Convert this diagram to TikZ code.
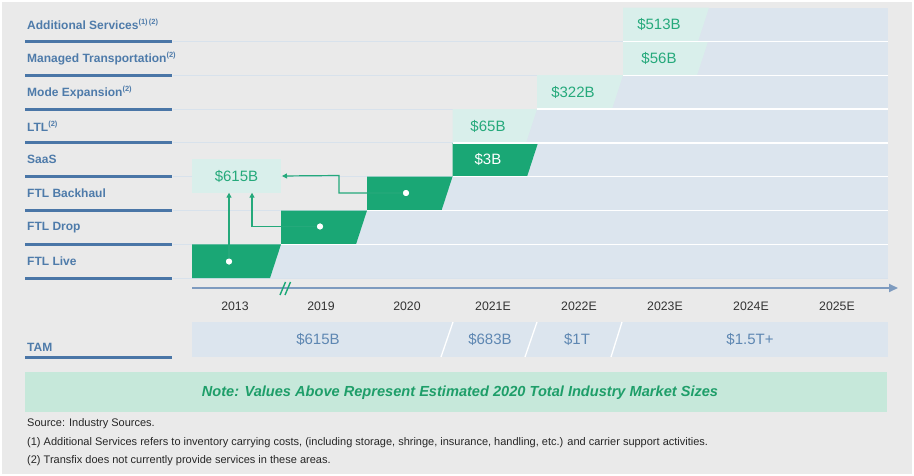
\documentclass[tikz,border=0pt]{standalone}
\usepackage{fontspec}
\setmainfont{Liberation Sans}
\usetikzlibrary{arrows.meta}
\definecolor{bg}{HTML}{EAEAEA}
\definecolor{dkgreen}{HTML}{1AA775}
\definecolor{mint}{HTML}{D9EFEB}
\definecolor{bandblue}{HTML}{DCE5EE}
\definecolor{lblblue}{HTML}{4E7BAA}
\definecolor{lineblue}{HTML}{4A76A7}
\definecolor{faint}{HTML}{D8E2EC}
\definecolor{axisblue}{HTML}{7E9BBF}
\definecolor{valgreen}{HTML}{25A97B}
\definecolor{tamblue}{HTML}{5E87B2}
\definecolor{notebg}{HTML}{C6E8DA}
\definecolor{notegreen}{HTML}{1E9E69}
\definecolor{yeartxt}{HTML}{333333}
\newcommand{\mysups}[1]{\raisebox{0.42em}{\fontsize{7.5}{8}\selectfont #1}}
\begin{document}
\begin{tikzpicture}[x=1pt,y=-1pt,
  rowlabel/.style={anchor=west, inner sep=0pt, text=lblblue, font=\fontsize{12}{13}\selectfont\bfseries},
  lblline/.style={draw=lineblue, line width=3pt},
  faintline/.style={draw=faint, line width=1pt},
  sepline/.style={draw=white, line width=1.3pt},
  band/.style={fill=bandblue},
  greenblock/.style={fill=dkgreen},
  mintblock/.style={fill=mint},
  valtext/.style={text=valgreen, inner sep=0pt, font=\fontsize{15}{16}\selectfont},
  whitetext/.style={text=white, inner sep=0pt, font=\fontsize{15}{16}\selectfont},
  yeartext/.style={text=yeartxt, inner sep=0pt, font=\fontsize{12.3}{13}\selectfont},
  tamtext/.style={text=tamblue, inner sep=0pt, font=\fontsize{15}{16}\selectfont},
  connector/.style={draw=valgreen, line width=1.2pt, -{Triangle[length=5pt,width=5pt]}},
  dotnode/.style={circle, fill=white, inner sep=0pt, minimum size=6pt},
  axisline/.style={draw=axisblue, line width=2pt, -{Triangle[length=9pt,width=8pt]}},
  breakmark/.style={draw=dkgreen, line width=1.4pt},
  footnote/.style={anchor=west, inner sep=0pt, text=black!85, font=\fontsize{11}{12}\selectfont}
]
\useasboundingbox (0,0) rectangle (914,476);
\fill[bg] (0,0) rectangle (914,476);
\draw[white, line width=2pt] (1,1) rectangle (913,475);

% faint row lines across
\foreach \k in {1,...,8} {
  \pgfmathsetmacro{\yb}{7.6+33.82*\k}
  \draw[faintline] (173,\yb) -- (888,\yb);
}

% bands and blocks
\foreach \k/\L/\TR/\kind in {1/623/709/mintblock, 2/623/708/mintblock, 3/537/623/mintblock, 4/452.5/537/mintblock, 5/452.5/538/greenblock, 6/367/452.5/greenblock, 7/281/367/greenblock, 8/192/281/greenblock} {
  \pgfmathsetmacro{\yt}{7.6+33.82*(\k-1)}
  \pgfmathsetmacro{\yb}{7.6+33.82*\k}
  \pgfmathsetmacro{\BR}{\TR-11}
  \fill[band] (\L,\yt) rectangle (888,\yb);
  \fill[\kind] (\L,\yt) -- (\TR,\yt) -- (\BR,\yb) -- (\L,\yb) -- cycle;
}

% white separators
\foreach \k/\S in {1/623, 2/623, 3/537, 4/452.5, 5/452.5, 6/367, 7/281} {
  \pgfmathsetmacro{\yb}{7.6+33.82*\k}
  \draw[sepline] (\S,\yb) -- (888,\yb);
}

% label lines and labels
\foreach \k/\lab in {1/{Additional Services\mysups{(1)\,(2)}}, 2/{Managed Transportation\mysups{(2)}}, 3/{Mode Expansion\mysups{(2)}}, 4/{LTL\mysups{(2)}}, 5/{SaaS}, 6/{FTL Backhaul}, 7/{FTL Drop}, 8/{FTL Live}} {
  \pgfmathsetmacro{\yc}{7.6+33.82*(\k-1)+16.9}
  \pgfmathsetmacro{\yb}{7.6+33.82*\k}
  \draw[lblline] (25,\yb) -- (172,\yb);
  \node[rowlabel] (lab\k) at (27,\yc) {\lab};
}

% values in blocks
\node[valtext] (v513) at (659,24.5) {\$513B};
\node[valtext] (v56) at (659,58.4) {\$56B};
\node[valtext] (v322) at (573,92.2) {\$322B};
\node[valtext] (v65) at (488,126) {\$65B};
\node[whitetext] (v3) at (488,159.8) {\$3B};

% 615 box
\fill[mint] (192,159.3) rectangle (281,192.7);
\node[valtext] (box615) at (236.5,176) {\$615B};
\coordinate (boxS) at (236.5,192.7);
\coordinate (boxE) at (282,176);

% connectors
\node[dotnode] (d1) at (229,261.5) {};
\node[dotnode] (d2) at (320,226.5) {};
\node[dotnode] (d3) at (406,193) {};
\draw[connector] (d1.center) -- (d1.center |- boxS);
\draw[connector] (d2.center) -- (252,226.5) -- (252,192.7);
\draw[connector] (d3.center) -- (339,193) -- (339,175.5) -- (boxE);
\node[dotnode] at (d1) {};
\node[dotnode] at (d2) {};
\node[dotnode] at (d3) {};

% axis
\coordinate (axs) at (192,288);
\coordinate (axe) at (898,288);
\draw[axisline] (axs) -- (axe);
\draw[breakmark] (280,295) -- (285.5,282);
\draw[breakmark] (285,295) -- (290.5,282);
\foreach \i/\yr in {0/2013,1/2019,2/2020,3/2021E,4/2022E,5/2023E,6/2024E,7/2025E} {
  \node[yeartext] (yr\i) at (235+86*\i,306) {\yr};
}

% TAM
\fill[band] (192,322) rectangle (888,357);
\draw[white, line width=1.3pt] (441,357) -- (453,322);
\draw[white, line width=1.3pt] (525,357) -- (537,322);
\draw[white, line width=1.3pt] (611,357) -- (622,322);
\node[tamtext] (t1) at (318,339.5) {\$615B};
\node[tamtext] (t2) at (490,339.5) {\$683B};
\node[tamtext] (t3) at (577,339.5) {\$1T};
\node[tamtext] (t4) at (750,339.5) {\$1.5T+};
\draw[lblline] (25,357) -- (172,357);
\node[rowlabel] (tam) at (27,347) {TAM};

% note
\fill[notebg] (25,372) rectangle (887,412);
\node[text=notegreen, inner sep=0pt, font=\fontsize{14.6}{16}\selectfont\bfseries\itshape] (note) at (460,393) {Note: Values Above Represent Estimated 2020 Total Industry Market Sizes};

% footnotes
\node[footnote] (f0) at (27,424) {Source: Industry Sources.};
\node[footnote] (f1) at (27,443) {(1) Additional Services refers to inventory carrying costs, (including storage, shringe, insurance, handling, etc.) and carrier support activities.};
\node[footnote] (f2) at (27,461) {(2) Transfix does not currently provide services in these areas.};
\end{tikzpicture}
\end{document}
